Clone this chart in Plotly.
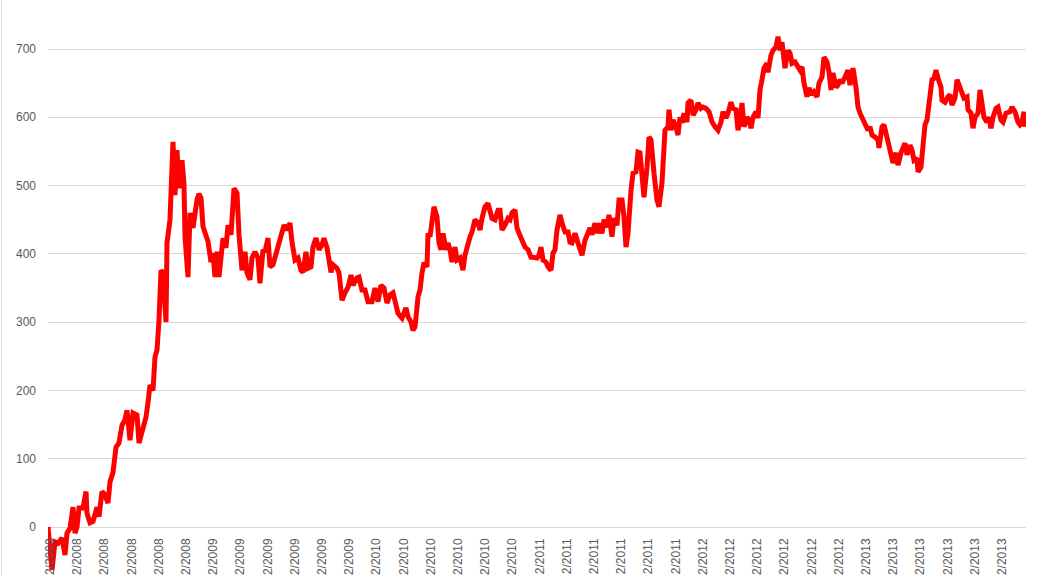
import plotly.graph_objects as go

obs = [0, 4, 7, 10, 14, 17, 19, 22, 25, 27, 29, 31, 35, 38, 39, 42, 45, 49, 51, 54,
       57, 60, 62, 65, 68, 71, 74, 77, 79, 82, 85, 89, 91, 95, 98, 100, 102, 105, 107, 109,
       111, 113, 115, 118, 119, 122, 124, 125, 127, 129, 131, 134, 136, 137, 140, 142, 145, 147, 149, 151,
       153, 155, 157, 160, 163, 165, 167, 169, 171, 173, 175, 178, 180, 183, 184, 186, 189, 191, 194, 197,
       199, 202, 204, 207, 210, 212, 215, 217, 220, 222, 225, 229, 232, 234, 236, 239, 242, 244, 247, 250,
       253, 255, 258, 260, 263, 265, 268, 271, 274, 276, 279, 281, 283, 285, 289, 291, 294, 297, 300, 303,
       305, 309, 311, 314, 317, 320, 324, 327, 330, 333, 336, 339, 342, 345, 348, 350, 354, 358, 360, 363,
       365, 367, 370, 372, 374, 376, 379, 380, 382, 384, 386, 389, 391, 393, 395, 398, 400, 402, 404, 407,
       409, 412, 415, 417, 420, 422, 424, 427, 430, 432, 434, 437, 440, 442, 444, 447, 450, 452, 454, 457,
       460, 462, 464, 467, 469, 471, 474, 477, 480, 483, 485, 489, 491, 493, 495, 498, 500, 503, 505, 507,
       509, 512, 514, 517, 520, 522, 524, 527, 530, 532, 534, 537, 540, 542, 544, 547, 549, 551, 554, 556,
       559, 561, 564, 566, 569, 571, 574, 576, 578, 580, 583, 585, 588, 590, 592, 594, 596, 599, 601, 603,
       604, 606, 609, 611, 614, 615, 617, 620, 621, 623, 625, 628, 630, 632, 634, 636, 639, 640, 643, 645,
       648, 650, 653, 655, 658, 661, 664, 667, 670, 673, 675, 678, 680, 683, 685, 688, 690, 692, 694, 696,
       699, 701, 703, 705, 708, 710, 712, 714, 716, 719, 720, 723, 725, 728, 730, 732, 734, 737, 740, 742,
       744, 747, 750, 752, 754, 756, 759, 761, 764, 766, 769, 771, 774, 776, 779, 781, 783, 785, 788, 790,
       792, 794, 797, 800, 802, 805, 808, 810, 812, 814, 817, 820, 822, 824, 827, 830, 831, 834, 836, 839,
       841, 843, 845, 848, 850, 853, 855, 857, 859, 862, 864, 866, 869, 870, 873, 875, 877, 879, 881, 884,
       886, 888, 890, 893, 894, 897, 900, 902, 904, 907, 909, 911, 914, 916, 919, 920, 923, 925, 927, 930,
       932, 934, 936, 939, 941, 943, 945, 948, 950, 953, 955, 958, 960, 962, 964, 967, 970, 972, 974, 976,
       977]

value = [0, -63, -22, -24, -16, -41, -9, -2, 29, -9, 0, 28, 28, 52, 20, 6, 8, 29, 15, 52,
         47, 35, 66, 80, 117, 123, 149, 157, 171, 127, 167, 164, 123, 142, 161, 182, 208, 200, 249, 259,
         303, 376, 372, 300, 416, 450, 518, 564, 486, 552, 496, 537, 503, 425, 366, 460, 438, 465, 479, 488,
         482, 440, 430, 418, 388, 401, 366, 403, 366, 394, 423, 409, 442, 428, 461, 496, 489, 428, 376, 403,
         372, 362, 394, 403, 394, 357, 406, 403, 423, 381, 384, 403, 423, 428, 442, 435, 445, 417, 391, 394,
         376, 373, 403, 379, 381, 410, 423, 406, 413, 423, 409, 391, 373, 384, 379, 372, 332, 343, 351, 369,
         354, 365, 366, 347, 347, 330, 330, 350, 330, 354, 350, 328, 340, 343, 325, 313, 306, 321, 308, 300,
         288, 293, 337, 347, 372, 387, 381, 430, 425, 454, 469, 454, 416, 406, 430, 406, 416, 406, 388, 410,
         391, 394, 376, 398, 416, 425, 432, 450, 445, 435, 452, 469, 474, 460, 452, 450, 464, 464, 435, 442,
         452, 450, 460, 464, 438, 430, 420, 410, 406, 395, 395, 394, 398, 410, 391, 388, 381, 376, 401, 406,
         435, 457, 445, 432, 432, 417, 416, 430, 416, 403, 398, 420, 432, 438, 428, 445, 430, 445, 430, 450,
         439, 457, 425, 452, 442, 479, 479, 454, 410, 430, 493, 518, 520, 549, 548, 501, 483, 527, 571, 567,
         548, 518, 479, 469, 504, 548, 581, 586, 611, 581, 596, 586, 574, 600, 592, 606, 593, 621, 625, 603,
         611, 621, 613, 615, 613, 608, 593, 586, 581, 593, 608, 599, 606, 622, 613, 611, 581, 596, 621, 586,
         600, 596, 584, 600, 608, 599, 640, 655, 672, 679, 666, 691, 698, 703, 718, 698, 710, 672, 698, 694,
         679, 681, 672, 669, 674, 650, 630, 643, 633, 637, 630, 650, 659, 688, 681, 666, 640, 665, 644, 647,
         655, 650, 659, 669, 647, 672, 644, 615, 606, 600, 589, 581, 586, 574, 571, 567, 555, 586, 589, 571,
         564, 545, 533, 548, 530, 548, 557, 562, 545, 559, 552, 537, 540, 520, 527, 562, 589, 596, 625, 655,
         657, 669, 657, 644, 625, 622, 630, 633, 618, 628, 655, 647, 633, 628, 630, 611, 606, 584, 600, 606,
         640, 611, 600, 593, 600, 584, 600, 613, 615, 596, 593, 606, 608, 608, 615, 608, 593, 589, 592, 608,
         586]

# category labels shown on the horizontal axis (every second month)
tick_pos = [2, 29, 56, 84, 111, 138, 165, 192, 220, 247, 274, 301, 328, 356, 383, 410, 437, 464,
            492, 519, 546, 573, 600, 628, 655, 682, 709, 736, 764, 791, 818, 845, 872, 900, 927, 954]
tick_years = ["2008", "2009", "2010", "2011", "2012", "2013"]
tick_labels = ["2/" + y for y in tick_years for _ in range(6)]

y_ticks = [0, 100, 200, 300, 400, 500, 600, 700]

W, H = 1038, 576

fig = go.Figure()
fig.add_trace(go.Scatter(
    x=obs, y=value, mode="lines",
    line=dict(color="#FF0000", width=5),
    hoverinfo="skip", showlegend=False,
))

fig.update_layout(
    width=W, height=H,
    margin=dict(l=0, r=0, t=0, b=0, pad=0, autoexpand=False),
    paper_bgcolor="white", plot_bgcolor="white",
    font=dict(family="Liberation Sans, Arial, sans-serif", size=12, color="#595959"),
    xaxis=dict(
        domain=[48 / W, 1026 / W],
        range=[0, 978],
        anchor="free", position=49 / H,
        tickmode="array", tickvals=tick_pos, ticktext=tick_labels,
        tickangle=-90, ticks="", ticklabelstandoff=8,
        showgrid=False, zeroline=False, showline=False,
        tickfont=dict(size=12, color="#595959"),
        automargin=False, fixedrange=True,
    ),
    yaxis=dict(
        domain=[0, 1],
        range=[-71.75, 771.75],
        tickmode="array", tickvals=y_ticks,
        ticks="", ticklabelstandoff=11,
        showgrid=True, gridcolor="#D9D9D9", gridwidth=1,
        zeroline=False, showline=False,
        tickfont=dict(size=12, color="#595959"),
        automargin=False, fixedrange=True,
    ),
    shapes=[dict(type="line", xref="paper", yref="paper", x0=1.5 / W, x1=1.5 / W, y0=0, y1=1,
                 line=dict(color="#D9D9D9", width=1))],
)

fig.write_html(
    "out.html",
    config={"displayModeBar": False},
    post_script="document.body.style.margin='0';document.body.style.overflow='hidden';",
)
